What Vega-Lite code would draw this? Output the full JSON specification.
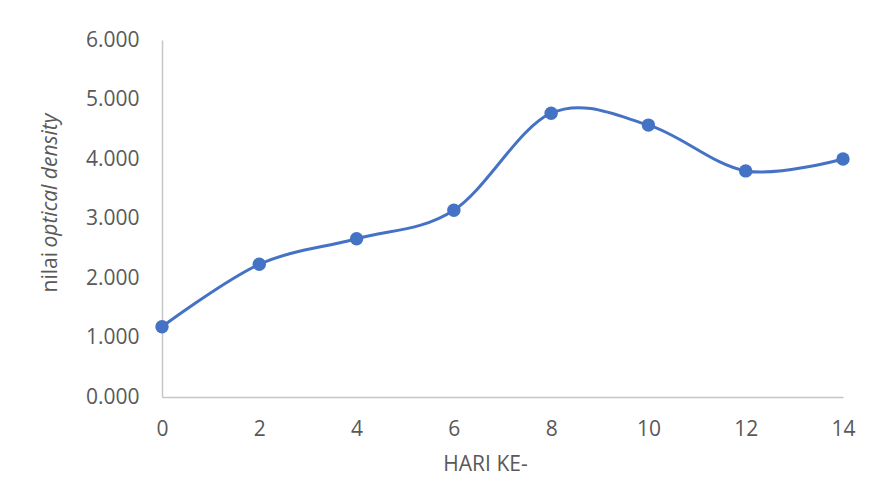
{
  "$schema": "https://vega.github.io/schema/vega-lite/v6.json",
  "autosize": "none",
  "width": 681,
  "height": 357,
  "padding": {"left": 162, "top": 40, "right": 29, "bottom": 103},
  "background": "white",
  "config": {
    "view": {"stroke": null},
    "font": "Open Sans",
    "axis": {
      "labelFont": "Open Sans",
      "titleFont": "Open Sans",
      "labelFontSize": 21,
      "titleFontSize": 21,
      "labelColor": "#595959",
      "titleColor": "#595959",
      "titleFontWeight": "normal",
      "domainColor": "#C6C6C6",
      "domainWidth": 1.5,
      "grid": false,
      "ticks": false,
      "tickSize": 0
    }
  },
  "data": {
    "values": [
      {"hari": 0, "od": 1.18},
      {"hari": 2, "od": 2.23},
      {"hari": 4, "od": 2.66},
      {"hari": 6, "od": 3.14},
      {"hari": 8, "od": 4.77},
      {"hari": 10, "od": 4.57},
      {"hari": 12, "od": 3.80},
      {"hari": 14, "od": 4.00}
    ]
  },
  "layer": [
    {
      "mark": {"type": "line", "interpolate": "cardinal", "tension": 0, "color": "#4472C4", "strokeWidth": 3},
      "encoding": {
        "x": {
          "field": "hari", "type": "quantitative",
          "scale": {"domain": [0, 14], "nice": false, "zero": false},
          "axis": {
            "values": [0, 2, 4, 6, 8, 10, 12, 14],
            "labelPadding": 21,
            "labelFlush": false,
            "title": "HARI KE-",
            "titleX": 323,
            "titleY": 73,
            "titleBaseline": "alphabetic",
            "titleAnchor": null,
            "titleAlign": "center"
          }
        },
        "y": {
          "field": "od", "type": "quantitative",
          "scale": {"domain": [0, 6], "nice": false},
          "axis": {
            "values": [0, 1, 2, 3, 4, 5, 6],
            "format": ".3f",
            "labelPadding": 23,
            "labelFlush": false,
            "title": "nilai",
            "titleAngle": -90,
            "titleAlign": "left",
            "titleBaseline": "alphabetic",
            "titleX": -105.3,
            "titleY": 252,
            "titleAnchor": null
          }
        }
      }
    },
    {
      "mark": {"type": "point", "filled": true, "size": 180, "color": "#4472C4", "opacity": 1},
      "encoding": {
        "x": {"field": "hari", "type": "quantitative"},
        "y": {
          "field": "od", "type": "quantitative",
          "scale": {"domain": [0, 6], "nice": false},
          "axis": {
            "orient": "right",
            "labels": false,
            "domain": false,
            "title": "optical density",
            "titleFontStyle": "italic",
            "titleAngle": -90,
            "titleAlign": "left",
            "titleBaseline": "alphabetic",
            "titleX": -786.3,
            "titleY": 207,
            "titleAnchor": null
          }
        }
      }
    }
  ],
  "resolve": {"scale": {"y": "independent"}, "axis": {"y": "independent"}}
}
